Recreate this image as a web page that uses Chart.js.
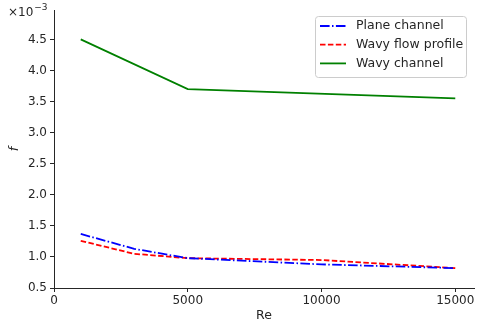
<!DOCTYPE html>
<html>
<head>
<meta charset="utf-8">
<script src="https://cdn.jsdelivr.net/npm/chart.js"></script>
<style>
  html, body { margin: 0; padding: 0; background: #fff; }
  #wrap { width: 480px; height: 325px; position: relative; }
</style>
</head>
<body>
<div id="wrap"><canvas id="frictionChart"></canvas></div>
<script>
// values (f in units of 1e-3)
const reValues = [1000, 3000, 5000, 10000, 15000];
const planeChannel = [1.37, 1.13, 0.98, 0.88, 0.82];
const wavyFlowProfile = [1.26, 1.05, 0.98, 0.95, 0.82];
const wavyChannelRe = [1000, 5000, 15000];
const wavyChannel = [4.5, 3.7, 3.55];
const xTicks = [0, 5000, 10000, 15000];
const yTicks = [0.5, 1.0, 1.5, 2.0, 2.5, 3.0, 3.5, 4.0, 4.5];

const FONT = "DejaVu Sans";
const TEXT = "#262626";

function pairs(xs, ys) {
  return xs.map((x, i) => ({ x: x, y: ys[i] }));
}

const extras = {
  id: "extras",
  afterDraw(chart) {
    const ctx = chart.ctx;
    const area = chart.chartArea;
    ctx.save();
    ctx.fillStyle = TEXT;

    // axis labels
    ctx.font = "12.5px '" + FONT + "'";
    ctx.textAlign = "center";
    ctx.textBaseline = "middle";
    ctx.fillText("Re", (area.left + area.right) / 2, 316);
    ctx.save();
    ctx.translate(15, (area.top + area.bottom) / 2);
    ctx.rotate(-Math.PI / 2);
    ctx.font = "italic 12.5px '" + FONT + "'";
    ctx.fillText("f", 0, 0);
    ctx.restore();

    // offset text
    ctx.textAlign = "left";
    ctx.textBaseline = "alphabetic";
    ctx.font = "12px '" + FONT + "'";
    ctx.fillText("\u00d710", 8, 16);
    const w = ctx.measureText("\u00d710").width;
    ctx.font = "9px '" + FONT + "'";
    ctx.fillText("\u22123", 8 + w + 1, 10);

    // legend box
    const bx = 315.5, by = 16.5, bw = 151, bh = 61;
    ctx.beginPath();
    ctx.roundRect(bx, by, bw, bh, 3);
    ctx.fillStyle = "rgba(255,255,255,0.8)";
    ctx.fill();
    ctx.strokeStyle = "#cccccc";
    ctx.lineWidth = 1;
    ctx.stroke();

    chart.data.datasets.forEach((ds, i) => {
      const y = 26 + i * 18.7;
      ctx.beginPath();
      ctx.setLineDash(ds.borderDash || []);
      ctx.strokeStyle = ds.borderColor;
      ctx.lineWidth = ds.borderWidth;
      ctx.moveTo(320, y);
      ctx.lineTo(346, y);
      ctx.stroke();
      ctx.setLineDash([]);
      ctx.fillStyle = TEXT;
      ctx.font = "12.5px '" + FONT + "'";
      ctx.textBaseline = "middle";
      ctx.fillText(ds.label, 356, y);
    });
    ctx.restore();
  }
};

new Chart(document.getElementById("frictionChart").getContext("2d"), {
  type: "line",
  data: {
    datasets: [
      {
        label: "Plane channel",
        data: pairs(reValues, planeChannel),
        borderColor: "#0000ff",
        borderWidth: 1.8,
        borderDash: [9.6, 2.4, 1.5, 2.4],
        pointRadius: 0,
        tension: 0,
        fill: false,
      },
      {
        label: "Wavy flow profile",
        data: pairs(reValues, wavyFlowProfile),
        borderColor: "#ff0000",
        borderWidth: 1.8,
        borderDash: [5.5, 2.4],
        pointRadius: 0,
        tension: 0,
        fill: false,
      },
      {
        label: "Wavy channel",
        data: pairs(wavyChannelRe, wavyChannel),
        borderColor: "#008000",
        borderWidth: 1.8,
        pointRadius: 0,
        tension: 0,
        fill: false,
      },
    ],
  },
  options: {
    responsive: true,
    maintainAspectRatio: false,
    animation: false,
    layout: { padding: { top: 10, right: 6, left: 0, bottom: 0 } },
    plugins: { legend: { display: false }, tooltip: { enabled: false } },
    scales: {
      x: {
        type: "linear",
        min: 0,
        max: 15700,
        afterBuildTicks: (s) => { s.ticks = xTicks.map((v) => ({ value: v })); },
        afterFit: (s) => { s.height = 37; },
        grid: { drawOnChartArea: false, drawTicks: true, tickLength: 4, color: TEXT },
        border: { color: TEXT, width: 1 },
        ticks: {
          color: TEXT,
          font: { family: FONT, size: 12 },
          padding: 2,
          maxRotation: 0,
          callback: (v) => String(v),
        },
      },
      y: {
        type: "linear",
        min: 0.5,
        max: 4.97,
        afterBuildTicks: (s) => { s.ticks = yTicks.map((v) => ({ value: v })); },
        afterFit: (s) => { s.width = 54; },
        grid: { drawOnChartArea: false, drawTicks: true, tickLength: 4, color: TEXT },
        border: { color: TEXT, width: 1 },
        ticks: {
          color: TEXT,
          font: { family: FONT, size: 12 },
          padding: 3,
          callback: (v) => v.toFixed(1),
        },
      },
    },
  },
  plugins: [extras],
});
</script>
</body>
</html>
